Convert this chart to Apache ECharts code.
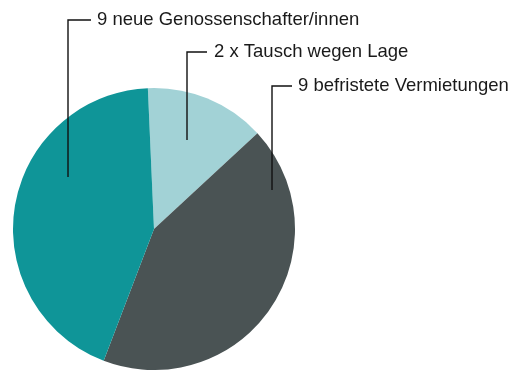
<!DOCTYPE html>
<html>
<head>
<meta charset="utf-8">
<script src="https://cdn.jsdelivr.net/npm/echarts@6/dist/echarts.min.js"></script>
<style>
  html, body { margin: 0; padding: 0; background: #ffffff; }
  #chart { width: 512px; height: 370px; }
</style>
</head>
<body>
<div id="chart"></div>
<script>
// Data (clockwise from the top)
var categories = ['2 x Tausch wegen Lage', '9 befristete Vermietungen', '9 neue Genossenschafter/innen'];
// Shares (percent)
var values = [13.8, 42.7, 43.5];
var colors = ['#a2d2d6', '#4a5354', '#0f9598'];

// Label placement (text anchor and leader-line corner / end), pixels
var labelPos = [
  { x: 214, y: 52, corner: [187, 52], end: [187, 140], start: [207, 52] },
  { x: 298, y: 86, corner: [272, 86], end: [272, 190], start: [292, 86] },
  { x: 97,  y: 20, corner: [68, 20],  end: [68, 177],  start: [91, 20] }
];

var chart = echarts.init(document.getElementById('chart'), null, { renderer: 'canvas' });
chart.setOption({
  animation: false,
  backgroundColor: '#ffffff',
  series: [{
    type: 'pie',
    z: 2,
    center: [154, 229],
    radius: 141,
    startAngle: 92.5,
    clockwise: true,
    silent: true,
    data: categories.map(function (c, i) {
      return { name: c, value: values[i], itemStyle: { color: colors[i] } };
    }),
    itemStyle: { borderWidth: 0 },
    label: { show: false },
    labelLine: { show: false }
  }, {
    type: 'pie',
    z: 5,
    center: [154, 229],
    radius: 141,
    startAngle: 92.5,
    clockwise: true,
    avoidLabelOverlap: false,
    silent: true,
    data: categories.map(function (c, i) {
      return { name: c, value: values[i], itemStyle: { color: 'rgba(0,0,0,0)' } };
    }),
    itemStyle: { borderWidth: 0 },
    label: {
      show: true,
      position: 'outside',
      formatter: '{b}',
      color: '#1a1a1a',
      fontFamily: 'Liberation Sans, Arial, sans-serif',
      fontSize: 18.5
    },
    labelLine: {
      show: true,
      lineStyle: { color: '#111111', width: 1.4 }
    },
    labelLayout: function (params) {
      var p = labelPos[params.dataIndex];
      return {
        x: p.x,
        y: p.y,
        align: 'left',
        verticalAlign: 'middle',
        labelLinePoints: [p.end, p.corner, p.start]
      };
    }
  }]
});
</script>
</body>
</html>
